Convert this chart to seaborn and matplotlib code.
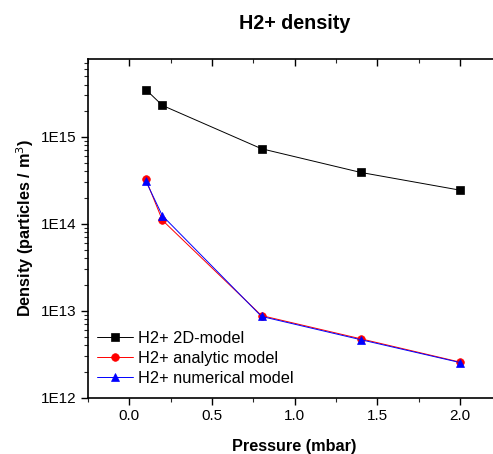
import numpy as np
import pandas as pd
import matplotlib
matplotlib.use("Agg")
import matplotlib.pyplot as plt
import seaborn as sns
from matplotlib.ticker import LogLocator, FixedLocator, FuncFormatter, NullFormatter

pressure = [0.1, 0.2, 0.8, 1.4, 2.0]
model_2d = [3.5e15, 2.3e15, 7.3e14, 3.9e14, 2.44e14]
analytic = [3.24e14, 1.1e14, 8.8e12, 4.76e12, 2.57e12]
numerical = [3.1e14, 1.24e14, 8.6e12, 4.65e12, 2.54e12]
series_names = ["H2+ 2D-model", "H2+ analytic model", "H2+ numerical model"]

df = pd.DataFrame({
    "Pressure": pressure * 3,
    "Density": model_2d + analytic + numerical,
    "Series": [series_names[0]] * 5 + [series_names[1]] * 5 + [series_names[2]] * 5,
})

sns.set_theme(style="white")
plt.rcParams['font.family'] = ['Liberation Sans', 'DejaVu Sans']
plt.rcParams['text.color'] = 'black'
plt.rcParams['axes.labelcolor'] = 'black'

fig = plt.figure(figsize=(4.93, 4.54), dpi=100)
ax = fig.add_axes([0.1785, 0.124, 0.838, 0.7454])

palette = {series_names[0]: "black", series_names[1]: "red", series_names[2]: "blue"}
markers = {series_names[0]: "s", series_names[1]: "o", series_names[2]: "^"}
for name in series_names:
    sub = df[df["Series"] == name]
    sns.lineplot(data=sub, x="Pressure", y="Density", ax=ax, color=palette[name],
                 marker=markers[name], markersize=5.5, linewidth=0.7,
                 markeredgewidth=0.5, markeredgecolor=palette[name], label=name)

ax.set_yscale("log")
ax.set_xlim(-0.25, 2.25)
ax.set_ylim(1e12, 7.8e15)
ax.xaxis.set_major_locator(FixedLocator([0.0, 0.5, 1.0, 1.5, 2.0]))
ax.xaxis.set_minor_locator(FixedLocator([-0.25, 0.25, 0.75, 1.25, 1.75, 2.25]))
ax.xaxis.set_major_formatter(FuncFormatter(lambda v, p: f"{v:.1f}"))
ax.yaxis.set_major_locator(FixedLocator([1e12, 1e13, 1e14, 1e15]))
ax.yaxis.set_minor_locator(LogLocator(base=10, subs=np.arange(2, 10)))
ax.yaxis.set_major_formatter(FuncFormatter(lambda v, p: f"1E{int(round(np.log10(v)))}"))
ax.yaxis.set_minor_formatter(NullFormatter())

for s in ax.spines.values():
    s.set_color("black")
    s.set_linewidth(1.2)

ax.tick_params(axis="both", which="major", labelsize=11, colors="black", length=5, width=1,
               direction="out", bottom=True, left=True, top=True, right=False, pad=3)
ax.tick_params(axis="both", which="minor", length=3, width=0.8, direction="out",
               bottom=True, left=True, top=True, right=False)
ax.xaxis.set_tick_params(which="both", labeltop=False)
# top ticks inward
for t in ax.xaxis.get_major_ticks() + ax.xaxis.get_minor_ticks():
    t.tick2line.set_marker(3)  # TICKDOWN

ax.set_xlabel("Pressure (mbar)", fontsize=11.7, fontweight="bold", labelpad=12, color="black")
ax.set_ylabel("Density (particles / m$^3$)", fontsize=11.7, fontweight="bold", labelpad=4, color="black")
ax.set_title("H2+ density", fontsize=14.2, fontweight="bold", pad=22, x=0.5, color="black")

leg = ax.legend(loc="lower left", bbox_to_anchor=(-0.005, 0.0), frameon=False, fontsize=11.8,
                handlelength=2.2, handletextpad=0.3, labelspacing=0.32, borderaxespad=0.3)
for txt in leg.get_texts():
    txt.set_color("black")

fig.savefig("out.png", dpi=100)
